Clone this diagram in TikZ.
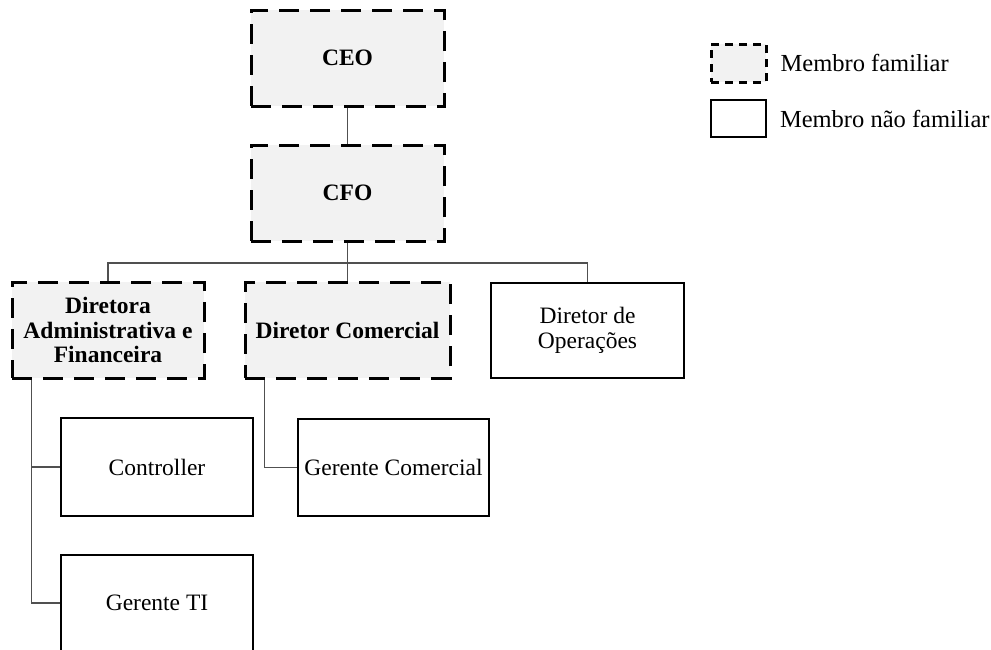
\documentclass[tikz,border=0pt]{standalone}
\usepackage{fontspec}
\setmainfont{Liberation Serif}
\usetikzlibrary{positioning}
\definecolor{famfill}{HTML}{F2F2F2}
\definecolor{linkgray}{HTML}{505050}
\tikzset{
    familiar/.style={draw, line width=3pt, dash pattern=on 20pt off 11pt, fill=famfill,
        font=\fontsize{23.5}{24.5}\selectfont\bfseries, align=center, inner sep=0pt},
    naofamiliar/.style={draw, line width=1.6pt, fill=white,
        font=\fontsize{23.5}{24.5}\selectfont, align=center, inner sep=0pt},
    link/.style={line width=1.5pt, draw=linkgray},
    legtext/.style={font=\fontsize{24.5}{25.5}\selectfont, inner sep=0pt, anchor=west},
}
\begin{document}
\begin{tikzpicture}[x=1pt,y=-1pt]
    \useasboundingbox (0,0) rectangle (991,649);
    \clip (0,0) rectangle (991,649);
    % top of the chart
    \node[familiar, minimum width=193pt, minimum height=96pt] (ceo) at (347.5,58) {CEO};
    \node[familiar, minimum width=193pt, minimum height=96pt] (cfo) at (347.5,193) {CFO};
    % directors
    \node[familiar, minimum width=192pt, minimum height=96pt] (dirAdm) at (108,330) {Diretora\\Administrativa e\\Financeira};
    \node[familiar, minimum width=205pt, minimum height=96pt] (dirCom) at (347.5,330) {Diretor Comercial};
    \node[naofamiliar, minimum width=193pt, minimum height=95pt] (dirOp) at (587.5,330.5) {Diretor de\\Operações};
    % managers
    \node[naofamiliar, minimum width=192pt, minimum height=98pt] (ctrl) at (157,467) {Controller};
    \node[naofamiliar, minimum width=192pt, minimum height=96pt] (gerTI) at (157,603) {Gerente TI};
    \node[naofamiliar, minimum width=191pt, minimum height=97pt] (gerCom) at (393.5,467.5) {Gerente Comercial};
    % connectors
    \coordinate (bus) at (347.5,263);
    \draw[link] (ceo.south) -- (cfo.north);
    \draw[link] (cfo.south) -- (dirCom.north);
    \draw[link] (dirAdm.north) |- (bus) -| (dirOp.north);
    \draw[link] ([xshift=21pt]dirAdm.south west) |- (ctrl.west);
    \draw[link] ([xshift=21pt]dirAdm.south west) |- (gerTI.west);
    \draw[link] ([xshift=21pt]dirCom.south west) |- (gerCom.west);
    % legend
    \node[draw, line width=3pt, dash pattern=on 8pt off 6pt, fill=famfill,
        minimum width=55pt, minimum height=38pt, inner sep=0pt] (legFam) at (738.5,63) {};
    \node[draw, line width=1.6pt, minimum width=55pt, minimum height=37pt, inner sep=0pt] (legNao) at (738.5,118.5) {};
    \node[legtext, right=13pt of legFam] (txtFam) {Membro familiar};
    \node[legtext, right=13pt of legNao] (txtNao) {Membro não familiar};
\end{tikzpicture}
\end{document}
